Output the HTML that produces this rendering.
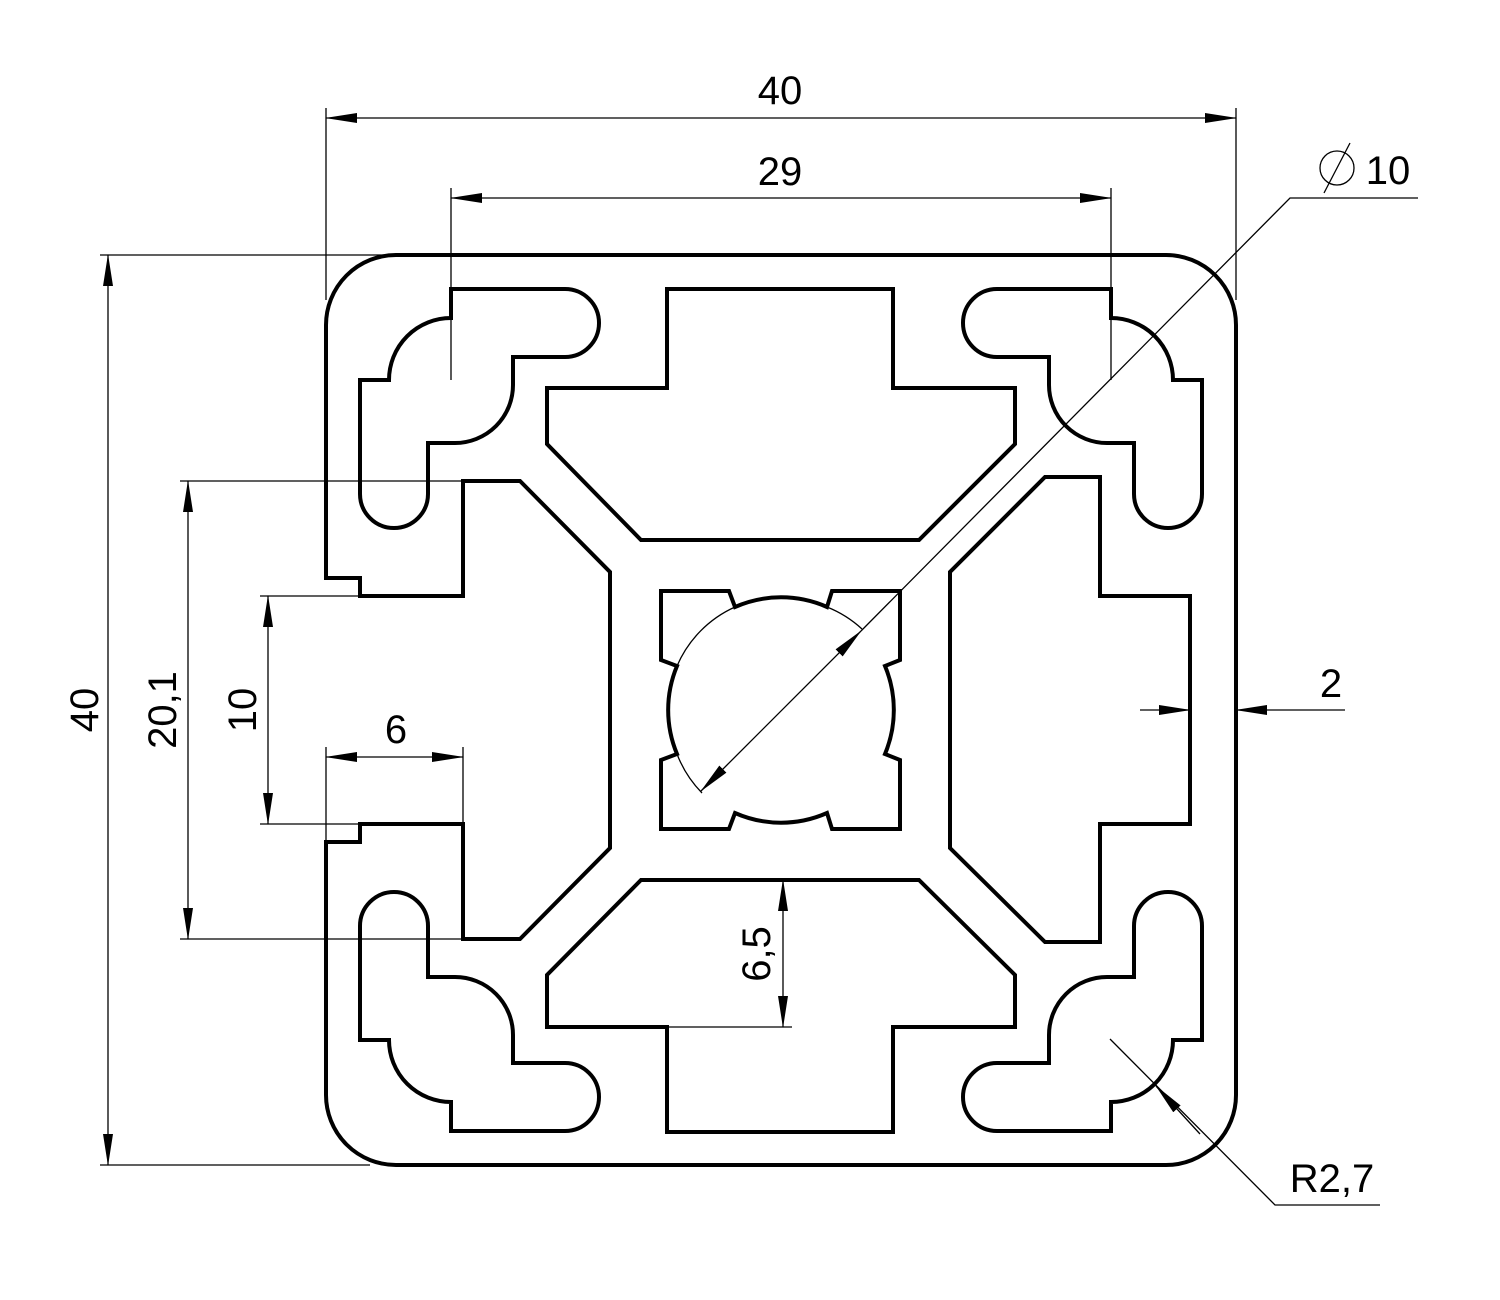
<!DOCTYPE html>
<html><head><style>html,body{margin:0;padding:0;background:#fff}svg{display:block}</style></head><body>
<svg width="1500" height="1300" viewBox="0 0 1500 1300" xmlns="http://www.w3.org/2000/svg">
<defs>
<marker id="a" markerWidth="32" markerHeight="12" refX="31" refY="6" orient="auto-start-reverse" markerUnits="userSpaceOnUse">
<path d="M0,1 L32,6 L0,11 Z" fill="#000"/>
</marker>
</defs>
<g fill="none" stroke="#000" stroke-width="4" stroke-linejoin="miter">
<path d="M396,255 H1166 A70,70 0 0 1 1236,325 V1095 A70,70 0 0 1 1166,1165 H396 A70,70 0 0 1 326,1095 V842 H360 V824 H463 V939 H520 L610,848 V572 L520,481 H463 V596 H360 V578 H326 V325 A70,70 0 0 1 396,255 Z"/>
<g id="c"><path d="M451,289 H565 A34,34 0 0 1 565,357 H513 V385 A58,58 0 0 1 455,443 H428 V494 A34,34 0 0 1 360,494 V380 H389 A62,62 0 0 1 451,318 Z"/></g>
<use href="#c" transform="translate(1562,0) scale(-1,1)"/>
<use href="#c" transform="translate(0,1420) scale(1,-1)"/>
<use href="#c" transform="translate(1562,1420) scale(-1,-1)"/>
<path d="M667,289 H893 V388 H1015 V444 L919,540 H641 L547,444 V388 H667 Z"/>
<path d="M641,880 H919 L1015,975 V1027 H893 V1132 H667 V1027 H547 V975 Z"/>
<path d="M1190,596 V824 H1100 V942 H1045 L950,848 V572 L1045,477 H1100 V596 Z"/>
<path d="M661,591 H729 L735,607 A114,114 0 0 1 827,607 L832,591 H900 V660 L885,666 A114,114 0 0 1 885,754 L900,760 V829 H832 L827,813 A114,114 0 0 1 735,813 L729,829 H661 V760 L677,754 A114,114 0 0 1 677,666 L661,660 Z"/>
</g>
<g fill="none" stroke="#000" stroke-width="1.3">
<path d="M677,666 A114,114 0 0 1 735,607"/>
<path d="M827,607 A114,114 0 0 1 862,629"/>
<path d="M677,754 A114,114 0 0 0 702,793"/>
<!-- extension lines -->
<path d="M326,108 V300 M1236,108 V300"/>
<path d="M451,188 V380 M1111,188 V380"/>
<path d="M100,255 H400 M100,1165 H370"/>
<path d="M180,481 H520 M180,939 H463"/>
<path d="M260,596 H360 M260,824 H360"/>
<path d="M326,747 V842 M463,747 V824"/>
<path d="M667,1027 H792"/>
<!-- dim lines -->
<line x1="326" y1="118" x2="1236" y2="118" marker-start="url(#a)" marker-end="url(#a)"/>
<line x1="451" y1="198" x2="1111" y2="198" marker-start="url(#a)" marker-end="url(#a)"/>
<line x1="108" y1="255" x2="108" y2="1165" marker-start="url(#a)" marker-end="url(#a)"/>
<line x1="188" y1="481" x2="188" y2="939" marker-start="url(#a)" marker-end="url(#a)"/>
<line x1="268" y1="596" x2="268" y2="824" marker-start="url(#a)" marker-end="url(#a)"/>
<line x1="326" y1="757" x2="463" y2="757" marker-start="url(#a)" marker-end="url(#a)"/>
<line x1="783" y1="880" x2="783" y2="1027" marker-start="url(#a)" marker-end="url(#a)"/>
<line x1="701" y1="791" x2="861" y2="631" marker-start="url(#a)" marker-end="url(#a)"/>
<path d="M861,631 L1290,198 H1418"/>
<line x1="1140" y1="710" x2="1190" y2="710" marker-end="url(#a)"/>
<line x1="1345" y1="710" x2="1236" y2="710" marker-end="url(#a)"/>
<path d="M1110,1039 L1275,1205 H1380"/>
<line x1="1200" y1="1134" x2="1156" y2="1086" marker-end="url(#a)"/>
<circle cx="1337" cy="168" r="17"/>
<line x1="1324" y1="193" x2="1350" y2="143"/>
</g>
<g font-family="'Liberation Sans', sans-serif" font-size="40" fill="#000" text-anchor="middle">
<text x="780" y="104">40</text>
<text x="780" y="185">29</text>
<text x="396" y="743">6</text>
<text x="1331" y="697">2</text>
<text x="1388" y="184">10</text>
<text x="1332" y="1192">R2,7</text>
<text transform="translate(98,710) rotate(-90)">40</text>
<text transform="translate(176,710) rotate(-90)">20,1</text>
<text transform="translate(256,710) rotate(-90)">10</text>
<text transform="translate(770,954) rotate(-90)">6,5</text>
</g>
</svg>
</body></html>
